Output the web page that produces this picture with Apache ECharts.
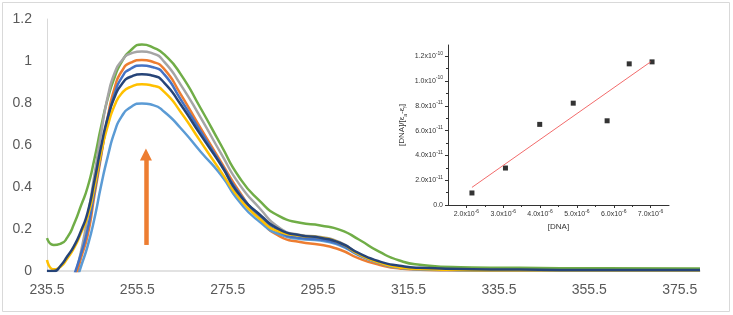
<!DOCTYPE html>
<html>
<head>
<meta charset="utf-8">
<script src="https://cdn.jsdelivr.net/npm/echarts@6/dist/echarts.min.js"></script>
<style>
html, body { margin: 0; padding: 0; background: #fff; }
#main { width: 733px; height: 315px; }
</style>
</head>
<body>
<div id="main"></div>
<script>
// main spectra (absorbance vs wavelength, nm)
var wavelength = [235.5, 237, 238.5, 240, 241.5, 243, 244.5, 246, 247.5, 249, 250.5, 252, 254, 256.5, 259, 261.5, 265, 269.5, 274, 278, 282.5, 287, 291.5, 296, 300.5, 304.5, 309, 313.5, 318, 327, 340, 358, 380];
var absGreen = [0.156, 0.124, 0.13, 0.16, 0.225, 0.31, 0.40, 0.535, 0.69, 0.825, 0.925, 0.995, 1.05, 1.078, 1.064, 1.03, 0.94, 0.775, 0.6, 0.448, 0.335, 0.26, 0.23, 0.217, 0.195, 0.15, 0.092, 0.05, 0.03, 0.018, 0.015, 0.013, 0.012];
var absGray = [null, null, -0.3, -0.17, -0.04, 0.09, 0.26, 0.457, 0.66, 0.835, 0.945, 1.0, 1.035, 1.045, 1.035, 0.995, 0.89, 0.73, 0.56, 0.415, 0.3, 0.205, 0.172, 0.162, 0.135, 0.082, 0.042, 0.018, 0.01, 0.006, 0.004, 0.003, 0.003];
var absOrange = [null, null, -0.25, -0.15, -0.06, 0.06, 0.17, 0.36, 0.55, 0.74, 0.875, 0.95, 0.992, 1.005, 0.995, 0.96, 0.845, 0.68, 0.52, 0.38, 0.25, 0.165, 0.138, 0.125, 0.1, 0.06, 0.03, 0.012, 0.006, 0.003, 0.002, 0.002, 0.002];
var absBlue = [null, null, -0.22, -0.12, -0.02, 0.08, 0.2, 0.38, 0.56, 0.725, 0.845, 0.92, 0.963, 0.978, 0.97, 0.935, 0.82, 0.665, 0.51, 0.372, 0.262, 0.185, 0.158, 0.15, 0.125, 0.078, 0.04, 0.017, 0.009, 0.005, 0.003, 0.003, 0.003];
var absNavy = [0.0, 0.0, 0.025, 0.07, 0.12, 0.19, 0.28, 0.43, 0.595, 0.735, 0.83, 0.888, 0.925, 0.937, 0.93, 0.895, 0.795, 0.648, 0.505, 0.365, 0.27, 0.197, 0.17, 0.158, 0.132, 0.085, 0.046, 0.025, 0.015, 0.01, 0.007, 0.005, 0.005];
var absYellow = [0.052, 0.008, 0.02, 0.06, 0.11, 0.18, 0.26, 0.4, 0.565, 0.695, 0.79, 0.845, 0.877, 0.889, 0.882, 0.852, 0.76, 0.616, 0.473, 0.348, 0.25, 0.187, 0.168, 0.16, 0.132, 0.08, 0.04, 0.017, 0.009, 0.005, 0.003, 0.003, 0.003];
var absLightBlue = [null, null, -0.35, -0.2, -0.08, 0.02, 0.12, 0.25, 0.41, 0.55, 0.665, 0.735, 0.78, 0.798, 0.79, 0.757, 0.682, 0.568, 0.457, 0.332, 0.235, 0.174, 0.152, 0.145, 0.12, 0.075, 0.038, 0.015, 0.008, 0.004, 0.003, 0.002, 0.002];
var xTicks = [235.5, 255.5, 275.5, 295.5, 315.5, 335.5, 355.5, 375.5];
var arrowX = 257.4;
var arrowY = [0.124, 0.555];

// inset: [DNA] (x10^-6 M) vs [DNA]/[ea-ef] (x10^-11)
var dnaConc = [2.15, 3.06, 3.99, 4.90, 5.82, 6.42, 7.04];
var dnaRatio = [0.97, 2.98, 6.50, 8.21, 6.79, 11.38, 11.54];
var fitX = [2.15, 7.0];
var fitY = [1.42, 11.54];
var insetXTicks = [2, 3, 4, 5, 6, 7];
var insetXMinor = [2.5, 3.5, 4.5, 5.5, 6.5];
var insetYTicks = [0, 2, 4, 6, 8, 10, 12];
var insetYMinor = [1, 3, 5, 7, 9, 11];
var insetYMant = ['0.0', '2.0', '4.0', '6.0', '8.0', '1.0', '1.2'];
var insetYExp = ['', '-11', '-11', '-11', '-11', '-10', '-10'];

function pairs(xs, ys) {
  var out = [];
  for (var i = 0; i < xs.length; i++) out.push([xs[i], ys[i]]);
  return out;
}

var supRich = {
  b: { fontSize: 7, lineHeight: 11, color: '#333', fontFamily: 'Liberation Sans' },
  s: { fontSize: 5, lineHeight: 6, verticalAlign: 'top', color: '#333', fontFamily: 'Liberation Sans' }
};

function spec(name, color, vals) {
  return {
    name: name, type: 'line', data: pairs(wavelength, vals),
    smooth: 0.6, showSymbol: false, clip: true,
    lineStyle: { color: color, width: 2.5 },
    xAxisIndex: 0, yAxisIndex: 0, z: 2
  };
}

var chart = echarts.init(document.getElementById('main'));

var series = [
  spec('g', '#70AD47', absGreen),
  spec('gr', '#A5A5A5', absGray),
  spec('o', '#ED7D31', absOrange),
  spec('lb', '#5B9BD5', absLightBlue),
  spec('b', '#4472C4', absBlue),
  spec('y', '#FFC000', absYellow),
  spec('n', '#264478', absNavy)
];
series[0].markLine = {
  silent: true, animation: false,
  symbol: ['none', 'triangle'], symbolSize: [12, 12],
  label: { show: false },
  lineStyle: { color: '#ED7D31', width: 4.5, type: 'solid' },
  data: [[{ coord: [arrowX, arrowY[0]] }, { coord: [arrowX, arrowY[1]] }]]
};
series.push({
  type: 'line', data: pairs(fitX, fitY), xAxisIndex: 1, yAxisIndex: 1,
  showSymbol: false, lineStyle: { color: '#F26B6B', width: 1 }
});
series.push({
  type: 'scatter', data: pairs(dnaConc, dnaRatio), xAxisIndex: 1, yAxisIndex: 1,
  symbol: 'rect', symbolSize: 5, itemStyle: { color: '#000' }
});

chart.setOption({
  animation: false,
  graphic: [{
    type: 'rect', shape: { x: 2.5, y: 2.5, width: 727, height: 309 },
    style: { fill: null, stroke: '#D9D9D9', lineWidth: 1 }, z: -1
  }],
  grid: [
    { left: 47, right: 33, top: 19, bottom: 44 },
    { left: 448, right: 64, top: 45, bottom: 110 }
  ],
  xAxis: [
    {
      type: 'value', gridIndex: 0, min: 235.5, max: 380,
      axisLine: { lineStyle: { color: '#D9D9D9', width: 1.5 } },
      axisTick: { show: false },
      splitLine: { show: false },
      axisLabel: {
        customValues: xTicks, margin: 12, color: '#595959', fontSize: 14,
        fontFamily: 'Liberation Sans', formatter: function (v) { return v.toFixed(1); }
      }
    },
    {
      type: 'value', gridIndex: 1, min: 1.5, max: 7.5, position: 'bottom',
      axisLine: { onZero: false, lineStyle: { color: '#333', width: 1 } },
      axisTick: { customValues: insetXTicks, length: 3, lineStyle: { color: '#333' } },
      splitLine: { show: false },
      axisLabel: {
        customValues: insetXTicks, margin: 4, rich: supRich,
        formatter: function (v) { return '{b|' + v.toFixed(1) + 'x10}{s|-6}'; }
      },
      name: '[DNA]', nameLocation: 'middle', nameGap: 18,
      nameTextStyle: { fontSize: 8, color: '#333', fontFamily: 'Liberation Sans' }
    },
    {
      type: 'value', gridIndex: 1, min: 1.5, max: 7.5, position: 'bottom',
      axisLine: { show: false, onZero: false },
      axisTick: { customValues: insetXMinor, length: 2, lineStyle: { color: '#333' } },
      axisLabel: { show: false }, splitLine: { show: false }
    }
  ],
  yAxis: [
    {
      type: 'value', gridIndex: 0, min: 0, max: 1.2, interval: 0.2,
      axisLine: { show: true, lineStyle: { color: '#D9D9D9', width: 1 } },
      axisTick: { show: false },
      splitLine: { show: false },
      axisLabel: { margin: 15, color: '#595959', fontSize: 14, fontFamily: 'Liberation Sans' }
    },
    {
      type: 'value', gridIndex: 1, min: 0, max: 12.9, position: 'left',
      axisLine: { show: true, onZero: false, lineStyle: { color: '#333', width: 1 } },
      axisTick: { customValues: insetYTicks, length: 3, lineStyle: { color: '#333' } },
      splitLine: { show: false },
      axisLabel: {
        customValues: insetYTicks, margin: 5, rich: supRich,
        formatter: function (v) {
          var i = insetYTicks.indexOf(v);
          if (!insetYExp[i]) return '{b|' + insetYMant[i] + '}';
          return '{b|' + insetYMant[i] + 'x10}{s|' + insetYExp[i] + '}';
        }
      },
      name: '{n|[DNA]/[ε}{u|a}{n|-ε}{u|f}{n|]}', nameLocation: 'middle', nameGap: 40, nameRotate: 90,
      nameTextStyle: {
        rich: {
          n: { fontSize: 8, lineHeight: 12, color: '#333', fontFamily: 'Liberation Sans' },
          u: { fontSize: 5, lineHeight: 6, verticalAlign: 'bottom', color: '#333', fontFamily: 'Liberation Sans' }
        }
      }
    },
    {
      type: 'value', gridIndex: 1, min: 0, max: 12.9, position: 'left',
      axisLine: { show: false, onZero: false },
      axisTick: { customValues: insetYMinor, length: 2, lineStyle: { color: '#333' } },
      axisLabel: { show: false }, splitLine: { show: false }
    }
  ],
  series: series
});
</script>
</body>
</html>
